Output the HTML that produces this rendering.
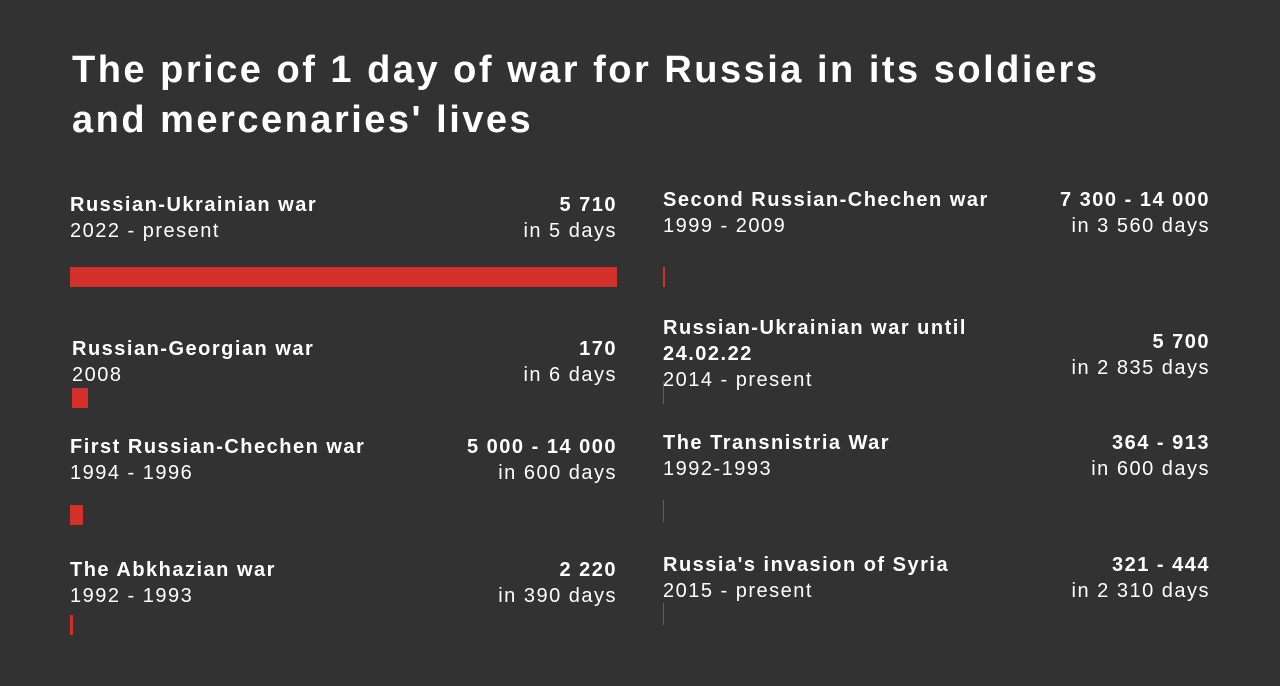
<!DOCTYPE html>
<html><head><meta charset="utf-8"><style>
body{margin:0;width:1280px;height:686px;background:#323232;color:#fff;font-family:"Liberation Sans",sans-serif;position:relative;overflow:hidden}
h1{position:absolute;left:72px;top:45px;margin:0;font-size:38px;line-height:50px;font-weight:bold;letter-spacing:2.5px;width:1200px;white-space:nowrap}
.it{position:absolute;width:547px;font-size:20px;line-height:26px;letter-spacing:1.5px}
.n{font-weight:bold}
.r{position:absolute;right:0;top:0;text-align:right}
.bar{position:absolute;background:#d3302a}
</style></head><body>
<h1>The price of 1 day of war for Russia in its soldiers<br>and mercenaries' lives</h1>
<div id="c"></div>
<script>
const names=["Russian-Ukrainian war","Russian-Georgian war","First Russian-Chechen war","The Abkhazian war","Second Russian-Chechen war","Russian-Ukrainian war until<br>24.02.22","The Transnistria War","Russia's invasion of Syria"];
const periods=["2022 - present","2008","1994 - 1996","1992 - 1993","1999 - 2009","2014 - present","1992-1993","2015 - present"];
const totals=["5 710","170","5 000 - 14 000","2 220","7 300 - 14 000","5 700","364 - 913","321 - 444"];
const days=["in 5 days","in 6 days","in 600 days","in 390 days","in 3 560 days","in 2 835 days","in 600 days","in 2 310 days"];
const perDay=[1142,33,27,6,4,2,1.5,0.5];
const layout=[[70,192,267],[72,336,388],[70,434,505],[70,557,615],[663,187,267],[663,315,382],[663,430,500],[663,552,603]];
const maxV=1142,maxW=547;
const c=document.getElementById('c');
names.forEach((nm,i)=>{
 const [x,y,by]=layout[i];
 const d=document.createElement('div');d.className='it';
 
 
 d.style.left=x+'px';d.style.top=y+'px';
 const rx=i<4?617-x:1210-x;d.style.width=rx+'px';
 const ry=(i==5)?14:0;
 d.innerHTML=`<div class="n">${nm}</div><div>${periods[i]}</div><div class="r" style="top:${ry}px"><div class="n">${totals[i]}</div><div>${days[i]}</div></div>`;
 c.appendChild(d);
 const b=document.createElement('div');b.className='bar';
 
 
 b.style.left=x+'px';b.style.top=by+'px';b.style.height=(i>=5?22:20)+'px';
 b.style.width=Math.max(perDay[i]/maxV*maxW,1)+'px';
 c.appendChild(b);
});
</script>
</body></html>
